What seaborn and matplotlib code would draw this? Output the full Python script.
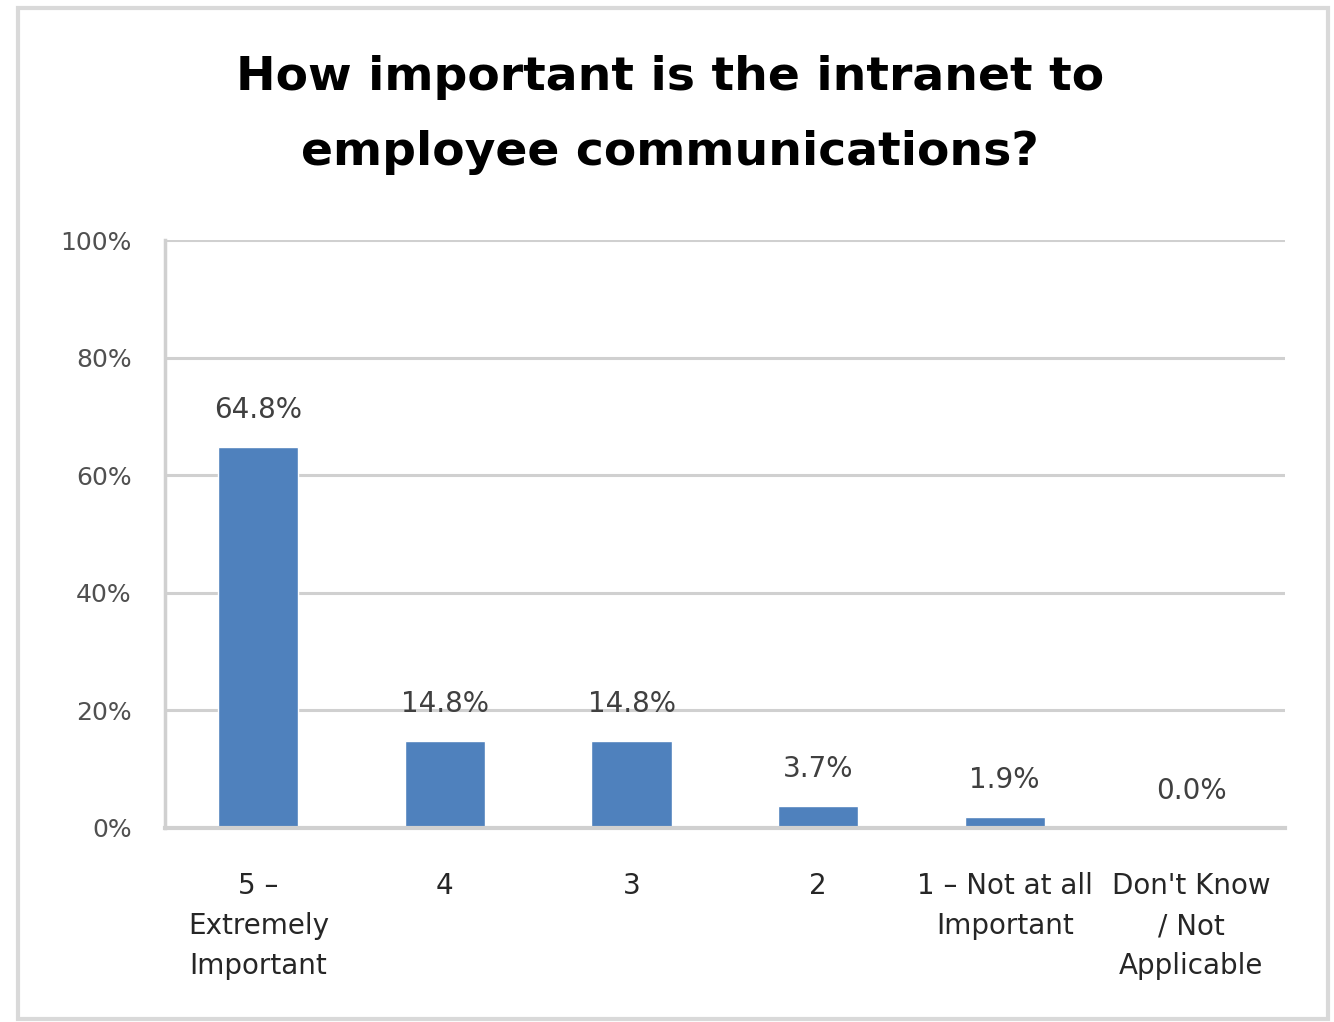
import matplotlib
matplotlib.use("Agg")
import matplotlib.pyplot as plt
import seaborn as sns
import pandas as pd
from matplotlib.patches import Rectangle

categories = ["5 –\nExtremely\nImportant", "4", "3", "2", "1 – Not at all\nImportant", "Don't Know\n/ Not\nApplicable"]
values = [64.8, 14.8, 14.8, 3.7, 1.9, 0.0]
value_labels = ["64.8%", "14.8%", "14.8%", "3.7%", "1.9%", "0.0%"]
yticks = [0, 20, 40, 60, 80, 100]
ytick_labels = ["0%", "20%", "40%", "60%", "80%", "100%"]
title = "How important is the intranet to\nemployee communications?"

df = pd.DataFrame({"category": categories, "value": values})

sns.set_theme(style="white")
plt.rcParams["font.family"] = ["DejaVu Sans"]

fig = plt.figure(figsize=(13.34, 10.22), dpi=100)
ax = fig.add_axes([0.1237, 0.19, 0.963 - 0.1237, 0.765 - 0.19])

sns.barplot(data=df, x="category", y="value", color="#4F81BD", saturation=1,
            width=0.43, ax=ax)

ax.set_ylim(0, 100)
ax.set_yticks(yticks)
ax.set_yticklabels(ytick_labels, fontsize=18, color="#505050")
ax.set_xlabel("")
ax.set_ylabel("")
ax.tick_params(axis="x", labelsize=20, colors="#262626", length=0, pad=32)
for t in ax.get_xticklabels():
    t.set_linespacing(1.55)
ax.tick_params(axis="y", length=6, color="#D0D0D0", width=2, pad=18)
ax.yaxis.grid(True, color="#D0D0D0", linewidth=2.2)
ax.set_axisbelow(True)
for s in ["top", "right"]:
    ax.spines[s].set_visible(False)
ax.spines["left"].set_color("#D0D0D0")
ax.spines["left"].set_linewidth(2.5)
ax.spines["bottom"].set_color("#D0D0D0")
ax.spines["bottom"].set_linewidth(3)

for i, (v, lab) in enumerate(zip(values, value_labels)):
    ax.text(i, v + 6.3, lab, ha="center", va="center", fontsize=20, color="#404040")

fig.text(0.502, 0.8875, title, ha="center", va="center", fontsize=34,
         fontweight="bold", color="#000000", linespacing=1.85)

fig.patches.append(Rectangle((0.0135, 0.003), 0.982, 0.989, transform=fig.transFigure,
                             fill=False, edgecolor="#D9D9D9", linewidth=3))

fig.savefig("out.png", dpi=100)
